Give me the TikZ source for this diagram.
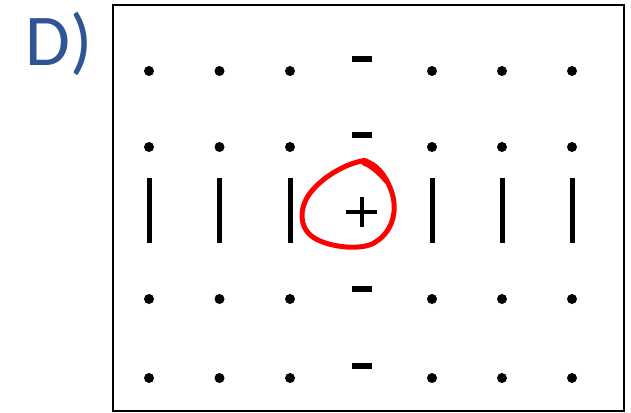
\documentclass[tikz,border=0pt]{standalone}
\usepackage{fontspec}
\newfontfamily\labelfont{Carlito}
\definecolor{lblblue}{HTML}{2F5597}
\definecolor{loopred}{HTML}{FF0000}
\begin{document}
\begin{tikzpicture}[x=1pt,y=-1pt,
  dotmark/.style={circle,fill=black,inner sep=0pt,minimum size=10pt},
  barmark/.style={rectangle,fill=black,inner sep=0pt,minimum width=5pt,minimum height=65pt},
  minusmark/.style={rectangle,fill=black,inner sep=0pt,minimum width=20pt,minimum height=6pt},
  frame/.style={draw=black,line width=2pt}]
\useasboundingbox (0,0) rectangle (631,412);
\node[font=\labelfont\fontsize{73}{80}\selectfont,text=lblblue,anchor=base west,inner sep=0pt] (lbl) at (25,66) {D)};
\draw[frame] (112.5,5) rectangle (623.5,410.5);
% columns
\foreach \i/\x in {1/149,2/219.5,3/290,5/432,6/502,7/572}{
  \node[dotmark] (r1c\i) at (\x,71) {};
  \node[dotmark] (r2c\i) at (\x,147) {};
  \node[barmark] (b\i) at (\x,210.5) {};
  \node[dotmark] (r4c\i) at (\x,299) {};
  \node[dotmark] (r5c\i) at (\x,378) {};
}
\node[minusmark] (m1) at (361.5,59) {};
\node[minusmark] (m2) at (361.5,135) {};
\node[minusmark] (m3) at (361.5,289) {};
\node[minusmark] (m4) at (361.5,366) {};
% plus
\node[inner sep=0pt,minimum size=30pt] (plus) at (361.5,212) {};
\draw[line width=4pt] (plus.north) -- (plus.south);
\draw[line width=4pt] (plus.west) -- (plus.east);
% red loop
\draw[loopred,line width=5pt,line cap=round,line join=round]
  (362,161) .. controls (345,164) and (320,178) .. (308,196)
  .. controls (298,212) and (300,232) .. (318,240)
  .. controls (332,247) and (358,250) .. (372,244)
  .. controls (392,234) and (398,212) .. (392,193)
  .. controls (388,180) and (380,167) .. (368,162)
  .. controls (365,160) and (362,160) .. (362,161)
  (364,163) .. controls (374,167) and (382,176) .. (388,183);
\end{tikzpicture}
\end{document}
